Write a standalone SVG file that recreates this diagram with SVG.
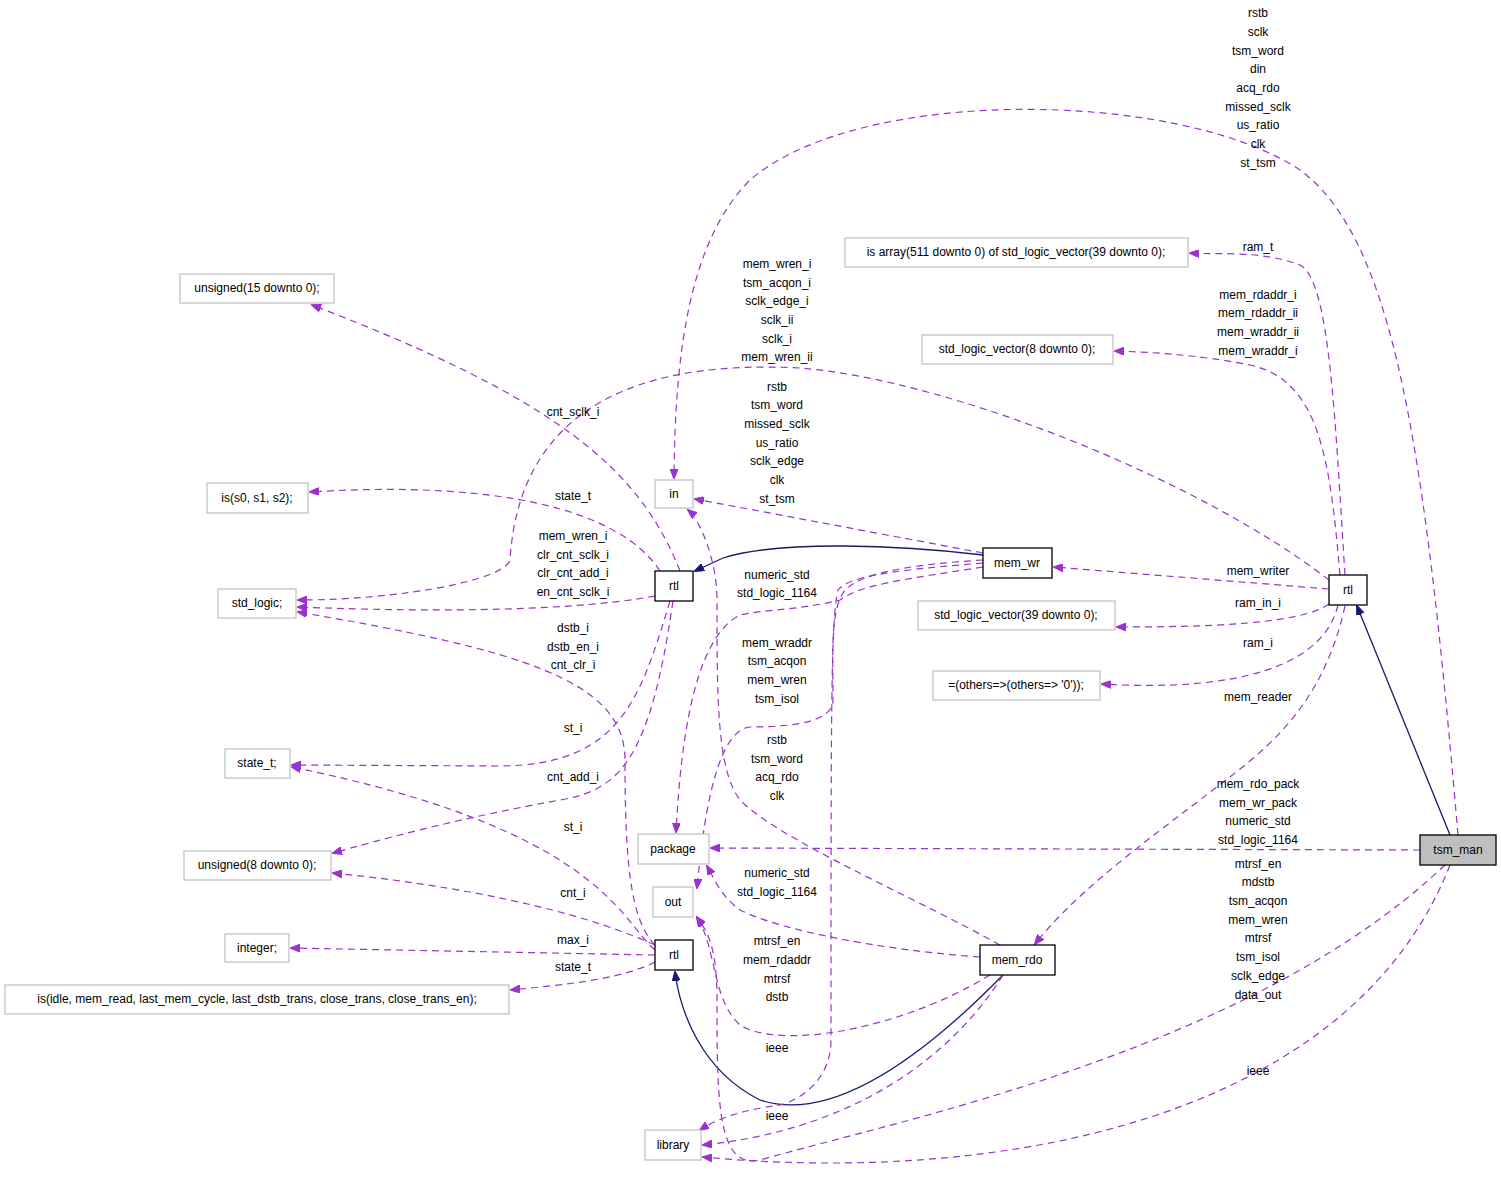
<svg xmlns="http://www.w3.org/2000/svg" width="1501" height="1185" viewBox="0 0 1501 1185">
<defs>
<marker id="ap" markerWidth="10" markerHeight="8" refX="9" refY="4" orient="auto" markerUnits="userSpaceOnUse"><path d="M0,0 L10,4 L0,8 Z" fill="#9a32cd" stroke="#9a32cd"/></marker>
<marker id="an" markerWidth="10" markerHeight="8" refX="9" refY="4" orient="auto" markerUnits="userSpaceOnUse"><path d="M0,0 L10,4 L0,8 Z" fill="#191970" stroke="#191970"/></marker>
</defs>
<style>
text{font-family:"Liberation Sans",Arial,sans-serif;font-size:12px;fill:#000;text-anchor:middle}
.d{fill:none;stroke:#9a32cd;stroke-width:1.2;stroke-dasharray:7,5;marker-end:url(#ap)}
.s{fill:none;stroke:#191970;stroke-width:1.3;marker-end:url(#an)}
.n rect{fill:#fff;stroke:#000;stroke-width:1.3}
.g rect{fill:#fff;stroke:#bfbfbf;stroke-width:1.2}
</style>
<rect width="1501" height="1185" fill="#fff"/>
<g id="connectors">
<path class="s" d="M1450,835 L1357,606"/>
<path class="s" d="M983,555 C900,545 780,540 723,558 L695,571"/>
<path class="s" d="M1003,975 C900,1080 820,1120 760,1100 C700,1070 680,1010 675,972"/>
<path class="d" d="M1458,835 C1425,450 1395,240 1300,170 C1180,90 860,85 750,180 C690,240 675,350 674,478"/>
<path class="d" d="M1420,850 L711,848"/>
<path class="d" d="M1445,865 C1250,1050 900,1120 760,1160 C717,1170 717,1100 717,1000 C717,960 712,935 697,918"/>
<path class="d" d="M1450,865 C1350,1120 1000,1185 703,1157"/>
<path class="d" d="M1345,575 C1335,420 1330,280 1300,265 C1260,250 1220,255 1190,253"/>
<path class="d" d="M1340,575 C1330,460 1320,380 1250,365 C1200,355 1150,352 1115,351"/>
<path class="d" d="M1329,580 C1200,480 950,380 800,368 C650,360 520,400 510,560 C505,580 400,600 298,600"/>
<path class="d" d="M1329,589 L1054,567"/>
<path class="d" d="M1329,604 C1300,625 1200,627 1117,627"/>
<path class="d" d="M1338,605 C1320,680 1200,690 1102,684"/>
<path class="d" d="M1345,606 C1320,720 1250,760 1200,800 C1120,860 1070,900 1035,944"/>
<path class="d" d="M983,553 L695,499"/>
<path class="d" d="M983,560 C900,565 860,575 845,590 C830,610 833,650 833,700 C833,720 800,727 750,727 C720,730 705,800 697,888"/>
<path class="d" d="M983,567 C900,580 860,585 840,600 C800,610 760,610 740,615 C690,640 680,760 676,832"/>
<path class="d" d="M983,563 C900,570 850,575 838,590 C831,620 831,700 831,1040 C831,1080 800,1100 780,1105 C740,1110 715,1120 700,1130"/>
<path class="d" d="M1000,945 C900,890 780,840 740,800 C717,770 717,700 717,600 C717,560 700,520 688,510"/>
<path class="d" d="M980,957 C880,950 780,930 740,910 C720,895 715,880 707,866"/>
<path class="d" d="M990,975 C900,1030 780,1050 740,1025 C712,1000 717,950 697,917"/>
<path class="d" d="M1003,975 C950,1060 850,1130 703,1145"/>
<path class="d" d="M680,571 C640,470 560,400 312,305"/>
<path class="d" d="M660,571 C620,510 500,480 310,492"/>
<path class="d" d="M655,596 C580,610 450,613 298,607"/>
<path class="d" d="M670,601 C640,700 620,765 500,766 L292,765"/>
<path class="d" d="M673,601 C650,760 620,790 560,800 C450,820 380,840 333,853"/>
<path class="d" d="M655,945 C630,920 625,860 625,760 C625,680 520,650 298,612"/>
<path class="d" d="M655,950 C620,920 600,830 292,767"/>
<path class="d" d="M655,945 C600,920 500,890 333,873"/>
<path class="d" d="M655,955 L291,948"/>
<path class="d" d="M655,962 C620,980 560,985 511,990"/>
</g>
<g font-size="12">
<text x="1258" y="17">rstb</text><text x="1258" y="36">sclk</text><text x="1258" y="55">tsm_word</text><text x="1258" y="73">din</text><text x="1258" y="92">acq_rdo</text><text x="1258" y="111">missed_sclk</text><text x="1258" y="129">us_ratio</text><text x="1258" y="148">clk</text><text x="1258" y="167">st_tsm</text>
<text x="1258" y="251">ram_t</text>
<text x="1258" y="299">mem_rdaddr_i</text><text x="1258" y="317">mem_rdaddr_ii</text><text x="1258" y="336">mem_wraddr_ii</text><text x="1258" y="355">mem_wraddr_i</text>
<text x="1258" y="575">mem_writer</text><text x="1258" y="607">ram_in_i</text><text x="1258" y="647">ram_i</text><text x="1258" y="701">mem_reader</text>
<text x="1258" y="788">mem_rdo_pack</text><text x="1258" y="807">mem_wr_pack</text><text x="1258" y="825">numeric_std</text><text x="1258" y="844">std_logic_1164</text>
<text x="1258" y="868">mtrsf_en</text><text x="1258" y="886">mdstb</text><text x="1258" y="905">tsm_acqon</text><text x="1258" y="924">mem_wren</text><text x="1258" y="942">mtrsf</text><text x="1258" y="961">tsm_isol</text><text x="1258" y="980">sclk_edge</text><text x="1258" y="999">data_out</text>
<text x="1258" y="1075">ieee</text>
<text x="777" y="268">mem_wren_i</text><text x="777" y="287">tsm_acqon_i</text><text x="777" y="305">sclk_edge_i</text><text x="777" y="324">sclk_ii</text><text x="777" y="343">sclk_i</text><text x="777" y="361">mem_wren_ii</text>
<text x="777" y="391">rstb</text><text x="777" y="409">tsm_word</text><text x="777" y="428">missed_sclk</text><text x="777" y="447">us_ratio</text><text x="777" y="465">sclk_edge</text><text x="777" y="484">clk</text><text x="777" y="503">st_tsm</text>
<text x="777" y="579">numeric_std</text><text x="777" y="597">std_logic_1164</text>
<text x="777" y="647">mem_wraddr</text><text x="777" y="665">tsm_acqon</text><text x="777" y="684">mem_wren</text><text x="777" y="703">tsm_isol</text>
<text x="777" y="744">rstb</text><text x="777" y="763">tsm_word</text><text x="777" y="781">acq_rdo</text><text x="777" y="800">clk</text>
<text x="777" y="877">numeric_std</text><text x="777" y="896">std_logic_1164</text>
<text x="777" y="945">mtrsf_en</text><text x="777" y="964">mem_rdaddr</text><text x="777" y="983">mtrsf</text><text x="777" y="1001">dstb</text>
<text x="777" y="1052">ieee</text><text x="777" y="1120">ieee</text>
<text x="573" y="416">cnt_sclk_i</text><text x="573" y="500">state_t</text>
<text x="573" y="540">mem_wren_i</text><text x="573" y="559">clr_cnt_sclk_i</text><text x="573" y="577">clr_cnt_add_i</text><text x="573" y="596">en_cnt_sclk_i</text>
<text x="573" y="632">dstb_i</text><text x="573" y="651">dstb_en_i</text><text x="573" y="669">cnt_clr_i</text>
<text x="573" y="732">st_i</text><text x="573" y="781">cnt_add_i</text><text x="573" y="831">st_i</text><text x="573" y="897">cnt_i</text><text x="573" y="944">max_i</text><text x="573" y="971">state_t</text>
</g>
<g id="tsm_man"><rect x="1420" y="835" width="76" height="30" fill="#bfbfbf" stroke="#000" stroke-width="1.3"/><text x="1458" y="854">tsm_man</text></g>
<g id="rtl_top" class="n"><rect x="1329" y="575" width="38" height="30"/><text x="1348" y="594">rtl</text></g>
<g id="mem_wr" class="n"><rect x="983" y="548" width="69" height="30"/><text x="1017" y="567">mem_wr</text></g>
<g id="mem_rdo" class="n"><rect x="980" y="945" width="75" height="30"/><text x="1017" y="964">mem_rdo</text></g>
<g id="rtl_mid" class="n"><rect x="655" y="571" width="38" height="30"/><text x="674" y="590">rtl</text></g>
<g id="rtl_low" class="n"><rect x="655" y="940" width="38" height="30"/><text x="674" y="959">rtl</text></g>
<g id="in" class="g"><rect x="655" y="480" width="38" height="28"/><text x="674" y="498">in</text></g>
<g id="package" class="g"><rect x="638" y="834" width="71" height="30"/><text x="673" y="853">package</text></g>
<g id="out" class="g"><rect x="653" y="887" width="40" height="30"/><text x="673" y="906">out</text></g>
<g id="library" class="g"><rect x="645" y="1130" width="56" height="30"/><text x="673" y="1149">library</text></g>
<g id="unsigned15" class="g"><rect x="180" y="274" width="154" height="29"/><text x="257" y="292">unsigned(15 downto 0);</text></g>
<g id="is_s" class="g"><rect x="207" y="483" width="101" height="30"/><text x="257" y="502">is(s0, s1, s2);</text></g>
<g id="std_logic" class="g"><rect x="218" y="589" width="78" height="29"/><text x="257" y="607">std_logic;</text></g>
<g id="state_t" class="g"><rect x="225" y="749" width="65" height="29"/><text x="257" y="767">state_t;</text></g>
<g id="unsigned8" class="g"><rect x="184" y="851" width="147" height="29"/><text x="257" y="869">unsigned(8 downto 0);</text></g>
<g id="integer" class="g"><rect x="225" y="934" width="64" height="28"/><text x="257" y="952">integer;</text></g>
<g id="is_idle" class="g"><rect x="5" y="985" width="504" height="29"/><text x="257" y="1003">is(idle, mem_read, last_mem_cycle, last_dstb_trans, close_trans, close_trans_en);</text></g>
<g id="is_array" class="g"><rect x="845" y="238" width="343" height="29"/><text x="1016" y="256">is array(511 downto 0) of std_logic_vector(39 downto 0);</text></g>
<g id="slv8" class="g"><rect x="922" y="335" width="191" height="29"/><text x="1017" y="353">std_logic_vector(8 downto 0);</text></g>
<g id="slv39" class="g"><rect x="918" y="601" width="197" height="29"/><text x="1016" y="619">std_logic_vector(39 downto 0);</text></g>
<g id="others" class="g"><rect x="933" y="671" width="167" height="29"/><text x="1016" y="689">=(others=&gt;(others=&gt; '0'));</text></g>
</svg>
